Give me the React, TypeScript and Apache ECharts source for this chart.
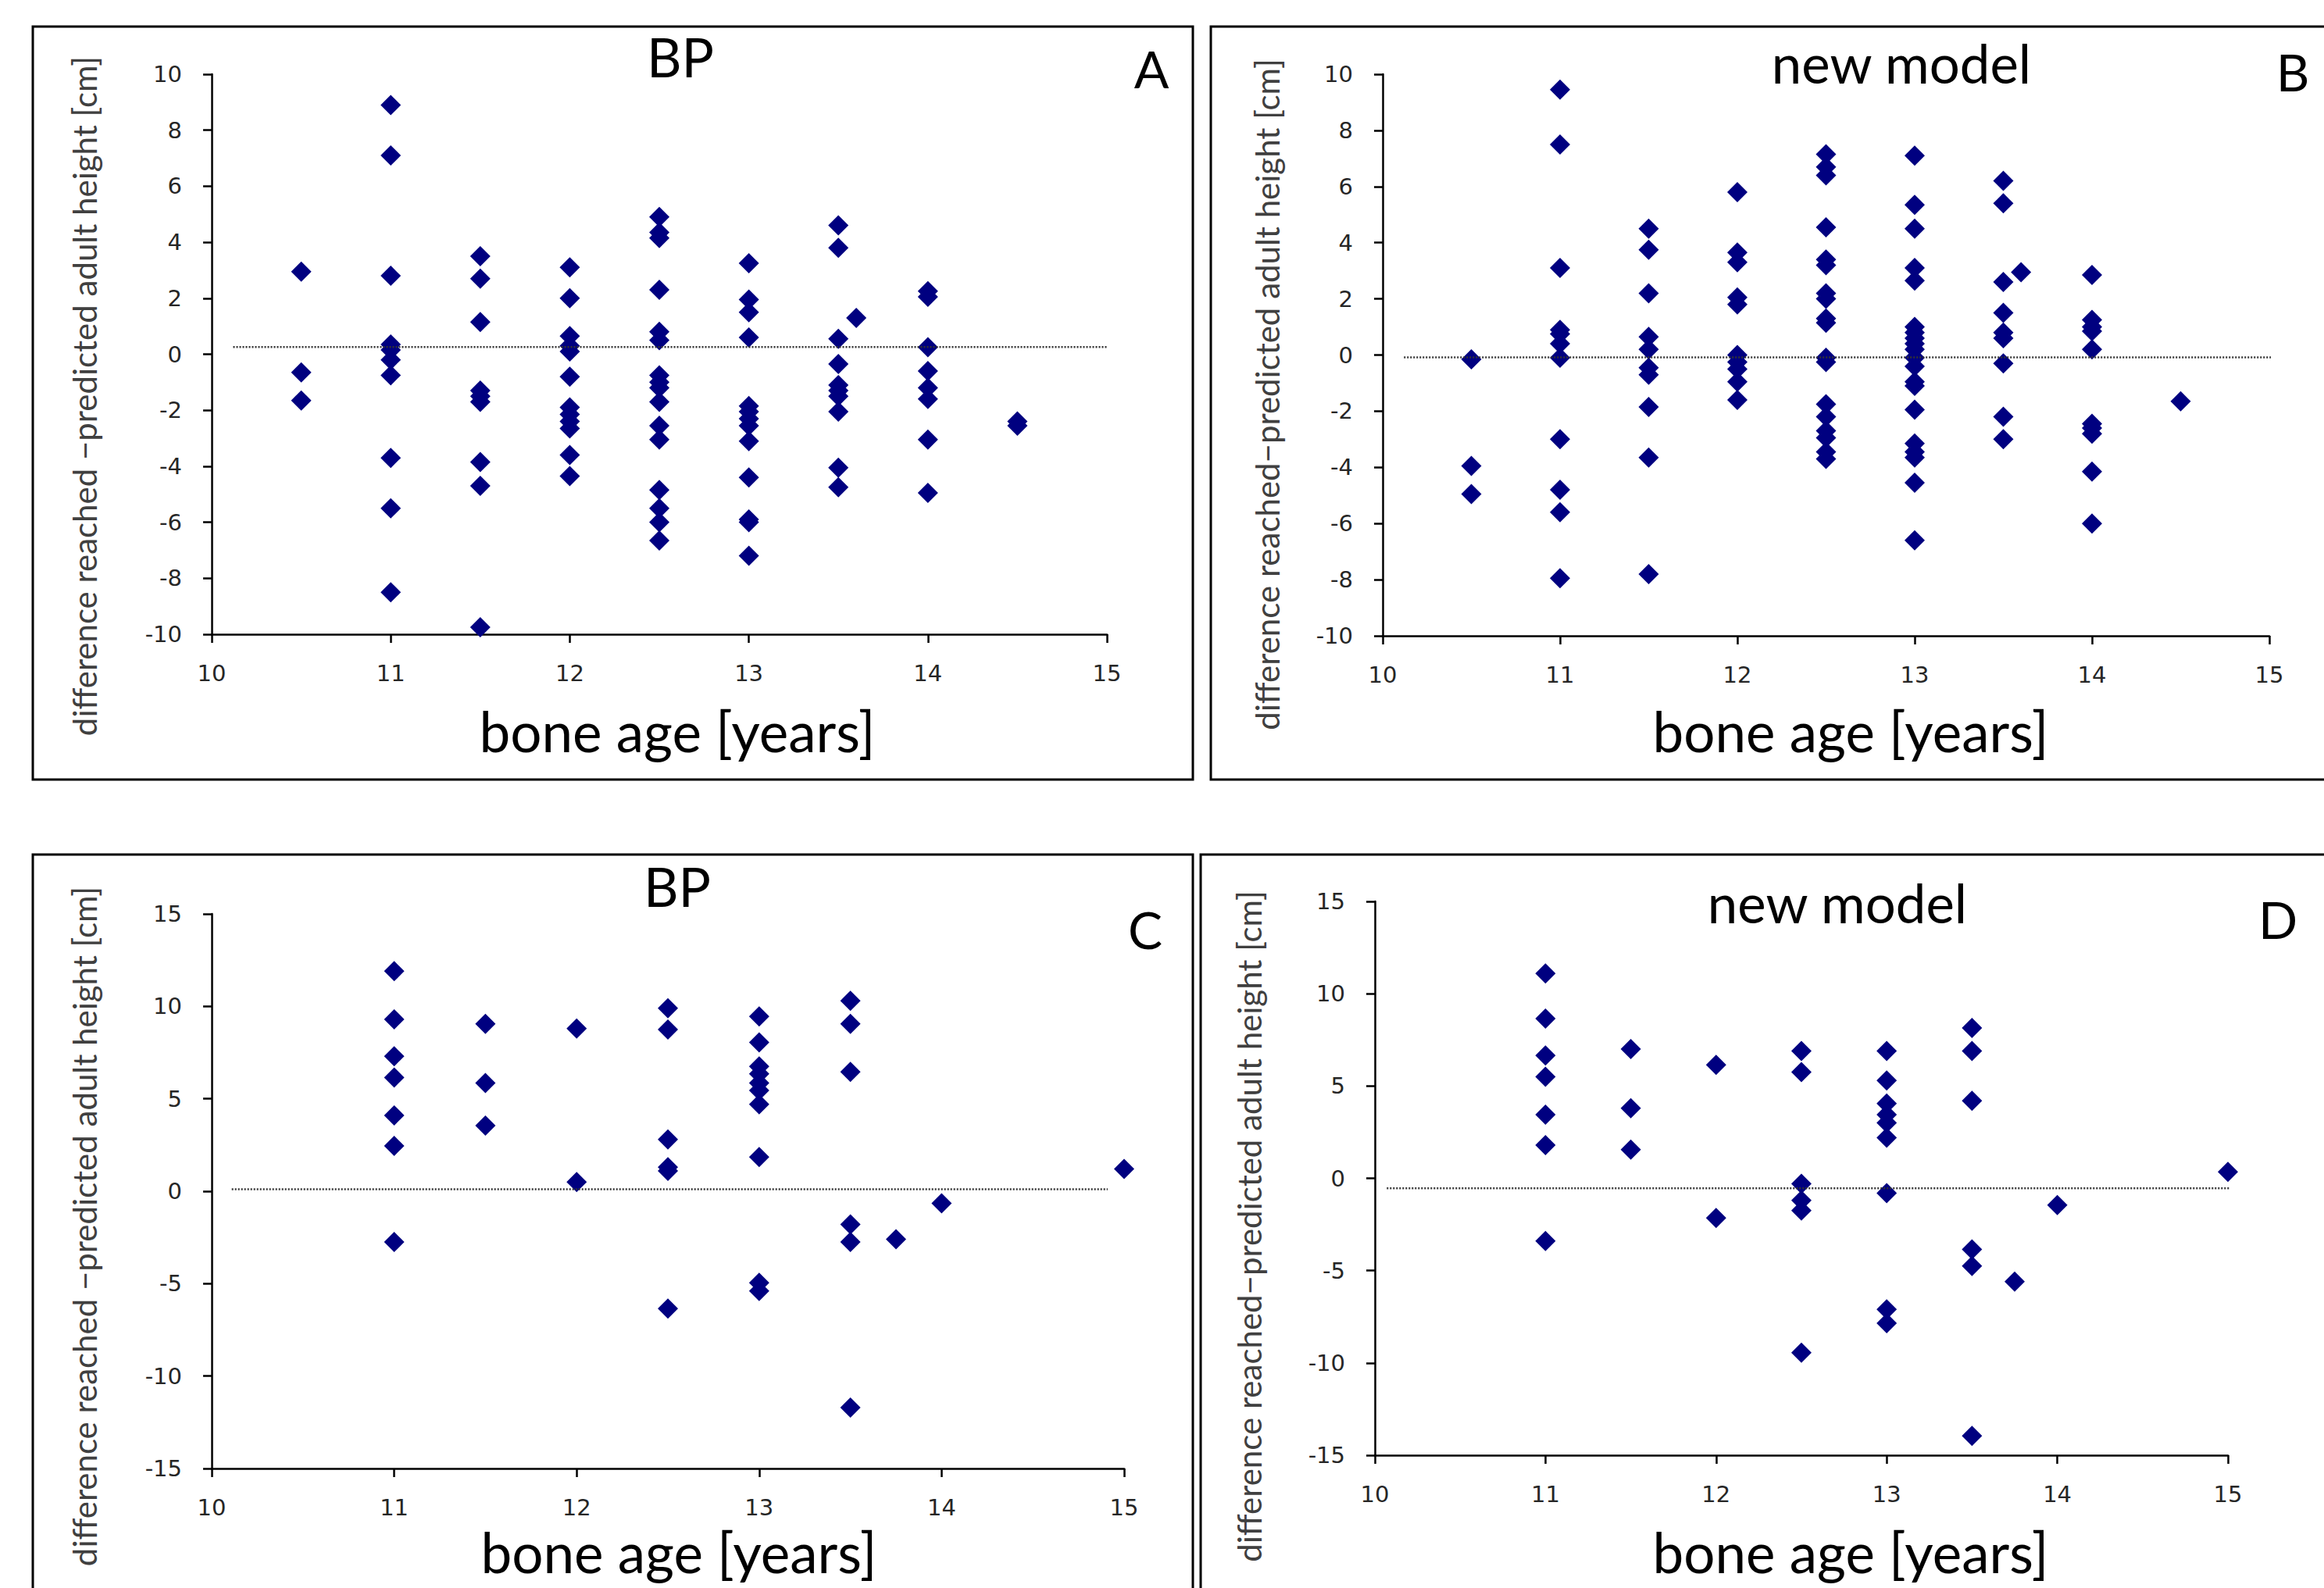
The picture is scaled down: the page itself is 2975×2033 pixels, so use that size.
import React, { useEffect, useRef } from "react";
import * as echarts from "echarts";

const W = 2975;
const H = 2033;

// Panel A: BP (top left)
const panelA: [number, number][] = [
  [10.5, 2.95], [10.5, -0.65], [10.5, -1.65],
  [11, 8.9], [11, 7.1], [11, 2.8], [11, 0.35], [11, 0.15], [11, -0.2], [11, -0.75], [11, -3.7], [11, -5.5], [11, -8.5],
  [11.5, 3.5], [11.5, 2.7], [11.5, 1.15], [11.5, -1.3], [11.5, -1.5], [11.5, -1.7], [11.5, -3.85], [11.5, -4.7], [11.5, -9.75],
  [12, 3.1], [12, 2.0], [12, 0.65], [12, 0.3], [12, 0.1], [12, -0.8], [12, -1.9], [12, -2.15], [12, -2.4], [12, -2.65], [12, -3.6], [12, -4.35],
  [12.5, 4.9], [12.5, 4.35], [12.5, 4.15], [12.5, 2.3], [12.5, 0.8], [12.5, 0.5], [12.5, -0.75], [12.5, -1.0], [12.5, -1.2], [12.5, -1.7], [12.5, -2.55], [12.5, -3.05], [12.5, -4.85], [12.5, -5.5], [12.5, -6.0], [12.5, -6.65],
  [13, 3.25], [13, 1.95], [13, 1.5], [13, 0.6], [13, -1.85], [13, -2.05], [13, -2.3], [13, -2.55], [13, -3.1], [13, -4.4], [13, -5.9], [13, -6.0], [13, -7.2],
  [13.5, 4.6], [13.5, 3.8], [13.5, 0.55], [13.5, -0.35], [13.5, -1.1], [13.5, -1.3], [13.5, -1.5], [13.5, -2.05], [13.5, -4.05], [13.5, -4.75],
  [13.6, 1.3],
  [14, 2.25], [14, 2.05], [14, 0.25], [14, -0.6], [14, -1.2], [14, -1.6], [14, -3.05], [14, -4.95],
  [14.5, -2.4], [14.5, -2.55],
];

// Panel B: new model (top right)
const panelB: [number, number][] = [
  [10.5, -0.15], [10.5, -3.95], [10.5, -4.95],
  [11, 9.45], [11, 7.5], [11, 3.1], [11, 0.9], [11, 0.75], [11, 0.4], [11, -0.1], [11, -3.0], [11, -4.8], [11, -5.6], [11, -7.95],
  [11.5, 4.5], [11.5, 3.75], [11.5, 2.2], [11.5, 0.65], [11.5, 0.2], [11.5, -0.45], [11.5, -0.7], [11.5, -1.85], [11.5, -3.65], [11.5, -7.8],
  [12, 5.8], [12, 3.65], [12, 3.3], [12, 2.05], [12, 1.8], [12, 0.0], [12, -0.25], [12, -0.5], [12, -0.95], [12, -1.6],
  [12.5, 7.15], [12.5, 6.7], [12.5, 6.4], [12.5, 4.55], [12.5, 3.4], [12.5, 3.2], [12.5, 2.2], [12.5, 2.0], [12.5, 1.3], [12.5, 1.15], [12.5, -0.1], [12.5, -0.25], [12.5, -1.75], [12.5, -2.2], [12.5, -2.7], [12.5, -2.95], [12.5, -3.45], [12.5, -3.7],
  [13, 7.1], [13, 5.35], [13, 4.5], [13, 3.1], [13, 2.65], [13, 1.0], [13, 0.8], [13, 0.6], [13, 0.4], [13, 0.2], [13, -0.1], [13, -0.4], [13, -0.95], [13, -1.1], [13, -1.95], [13, -3.15], [13, -3.45], [13, -3.65], [13, -4.55], [13, -6.6],
  [13.5, 6.2], [13.5, 5.4], [13.5, 2.6], [13.5, 1.5], [13.5, 0.8], [13.5, 0.6], [13.5, -0.3], [13.5, -2.2], [13.5, -3.0],
  [13.6, 2.95],
  [14, 2.85], [14, 1.25], [14, 1.0], [14, 0.85], [14, 0.2], [14, -2.45], [14, -2.6], [14, -2.8], [14, -4.15], [14, -6.0],
  [14.5, -1.65],
];

// Panel C: BP (bottom left)
const panelC: [number, number][] = [
  [11, 11.9], [11, 9.3], [11, 7.3], [11, 6.15], [11, 4.1], [11, 2.45], [11, -2.75],
  [11.5, 9.05], [11.5, 5.85], [11.5, 3.55],
  [12, 8.8], [12, 0.5],
  [12.5, 9.9], [12.5, 8.75], [12.5, 2.8], [12.5, 1.3], [12.5, 1.1], [12.5, -6.35],
  [13, 9.45], [13, 8.05], [13, 6.75], [13, 6.35], [13, 5.85], [13, 5.45], [13, 4.7], [13, 1.85], [13, -4.95], [13, -5.4],
  [13.5, 10.3], [13.5, 9.05], [13.5, 6.45], [13.5, -1.8], [13.5, -2.75], [13.5, -11.7],
  [13.75, -2.6],
  [14, -0.65],
  [15, 1.2],
];

// Panel D: new model (bottom right)
const panelD: [number, number][] = [
  [11, 11.1], [11, 8.65], [11, 6.65], [11, 5.5], [11, 3.45], [11, 1.8], [11, -3.4],
  [11.5, 7.0], [11.5, 3.8], [11.5, 1.55],
  [12, 6.15], [12, -2.15],
  [12.5, 6.9], [12.5, 5.75], [12.5, -0.3], [12.5, -1.2], [12.5, -1.75], [12.5, -9.45],
  [13, 6.9], [13, 5.3], [13, 4.05], [13, 3.45], [13, 3.0], [13, 2.2], [13, -0.8], [13, -7.1], [13, -7.85],
  [13.5, 8.15], [13.5, 6.9], [13.5, 4.2], [13.5, -3.85], [13.5, -4.75], [13.5, -13.95],
  [13.75, -5.6],
  [14, -1.45],
  [15, 0.35],
];

// dotted reference lines [x start, x end, y]
const lineA = [10.12, 15.0, 0.26];
const lineB = [10.12, 15.06, -0.08];
const lineC = [10.11, 14.91, 0.11];
const lineD = [10.07, 15.2, -0.54];

const panelTitles = ["BP", "new model", "BP", "new model"];
const panelLetters = ["A", "B", "C", "D"];
const xTitle = "bone age [years]";
const yTitles = [
  "difference reached \u2212predicted adult height [cm]",
  "difference reached\u2212predicted adult height [cm]",
  "difference reached \u2212predicted adult height [cm]",
  "difference reached\u2212predicted adult height [cm]",
];
const yRanges = [
  [-10, 10, 2],
  [-10, 10, 2],
  [-15, 15, 5],
  [-15, 15, 5],
];

const grids = [
  { left: 271, top: 95, width: 1146, height: 717 },
  { left: 1770, top: 95, width: 1135, height: 719 },
  { left: 271, top: 1170, width: 1168, height: 710 },
  { left: 1760, top: 1154, width: 1092, height: 709 },
];

const borders = [
  { x: 42, y: 34, width: 1485, height: 964 },
  { x: 1550, y: 34, width: 1500, height: 964 },
  { x: 42, y: 1094, width: 1485, height: 1000 },
  { x: 1537, y: 1094, width: 1500, height: 1000 },
];
const titlePos = [
  [871, 72], [2434, 80], [867, 1134], [2352, 1155],
];
const letterPos = [
  [1474, 87], [2935, 91], [1466, 1189], [2916, 1176],
];
const xTitlePos = [
  [867, 935], [2369, 935], [869, 1986], [2369, 1986],
];
const yTitlePos = [
  [108, 507], [1622, 505], [108, 1570], [1599, 1570],
];

const humanist = "Lato, 'Open Sans', sans-serif";
const tickFont = "'DejaVu Sans', Verdana, sans-serif";

function textEl(text: string, x: number, y: number, size: number, color: string, rotation = 0) {
  return {
    type: "text",
    x,
    y,
    rotation,
    silent: true,
    style: {
      text,
      fontSize: size,
      fontFamily: humanist,
      fill: color,
      align: "center",
      verticalAlign: "middle",
      textAlign: "center",
      textVerticalAlign: "middle",
    },
  };
}

export default function App() {
  const ref = useRef<HTMLDivElement>(null);
  useEffect(() => {
    document.body.style.margin = "0";
    const chart = echarts.init(ref.current!, null, { renderer: "svg", width: W, height: H });
    const datasets = [panelA, panelB, panelC, panelD];
    const lines = [lineA, lineB, lineC, lineD];

    const xAxis = grids.map((_, i) => ({
      type: "value",
      gridIndex: i,
      min: 10,
      max: 15,
      interval: 1,
      axisLine: { show: true, onZero: false, lineStyle: { color: "#000", width: 2.5 } },
      axisTick: { show: true, inside: false, length: 11, lineStyle: { color: "#000", width: 2.5 } },
      axisLabel: { margin: 35, fontSize: 29, fontFamily: tickFont, color: "#262626" },
      splitLine: { show: false },
    }));
    const yAxis = grids.map((_, i) => ({
      type: "value",
      gridIndex: i,
      min: yRanges[i][0],
      max: yRanges[i][1],
      interval: yRanges[i][2],
      axisLine: { show: true, onZero: false, lineStyle: { color: "#000", width: 2.5 } },
      axisTick: { show: true, inside: false, length: 11, lineStyle: { color: "#000", width: 2.5 } },
      axisLabel: { margin: 38, fontSize: 29, fontFamily: tickFont, color: "#262626" },
      splitLine: { show: false },
    }));

    const series: any[] = [];
    datasets.forEach((d, i) => {
      series.push({
        type: "scatter",
        xAxisIndex: i,
        yAxisIndex: i,
        data: d,
        symbol: "diamond",
        symbolSize: [26, 26],
        itemStyle: { color: "#000080", opacity: 1 },
        z: 2,
      });
      const l = lines[i];
      series.push({
        type: "line",
        xAxisIndex: i,
        yAxisIndex: i,
        data: [[l[0], l[2]], [l[1], l[2]]],
        symbol: "none",
        clip: false,
        silent: true,
        lineStyle: { color: "#333", width: 2.5, type: [2, 2] },
        z: 3,
      });
    });

    const graphic: any[] = [];
    borders.forEach((b) => {
      graphic.push({
        type: "rect",
        shape: b,
        silent: true,
        style: { fill: "none", stroke: "#000", lineWidth: 3 },
      });
    });
    for (let i = 0; i < 4; i++) {
      graphic.push(textEl(panelTitles[i], titlePos[i][0], titlePos[i][1], 69, "#000"));
      graphic.push(textEl(panelLetters[i], letterPos[i][0], letterPos[i][1], 66, "#000"));
      graphic.push(textEl(xTitle, xTitlePos[i][0], xTitlePos[i][1], 71, "#000"));
      graphic.push(textEl(yTitles[i], yTitlePos[i][0], yTitlePos[i][1], 42, "#404040", Math.PI / 2));
    }

    chart.setOption({
      animation: false,
      backgroundColor: "#fff",
      grid: grids.map((g) => ({ ...g, containLabel: false })),
      xAxis,
      yAxis,
      series,
      graphic,
    });
    return () => chart.dispose();
  }, []);
  return (
    <div
      ref={ref}
      style={{ position: "absolute", left: 0, top: 0, width: W, height: H, background: "#fff" }}
    />
  );
}
